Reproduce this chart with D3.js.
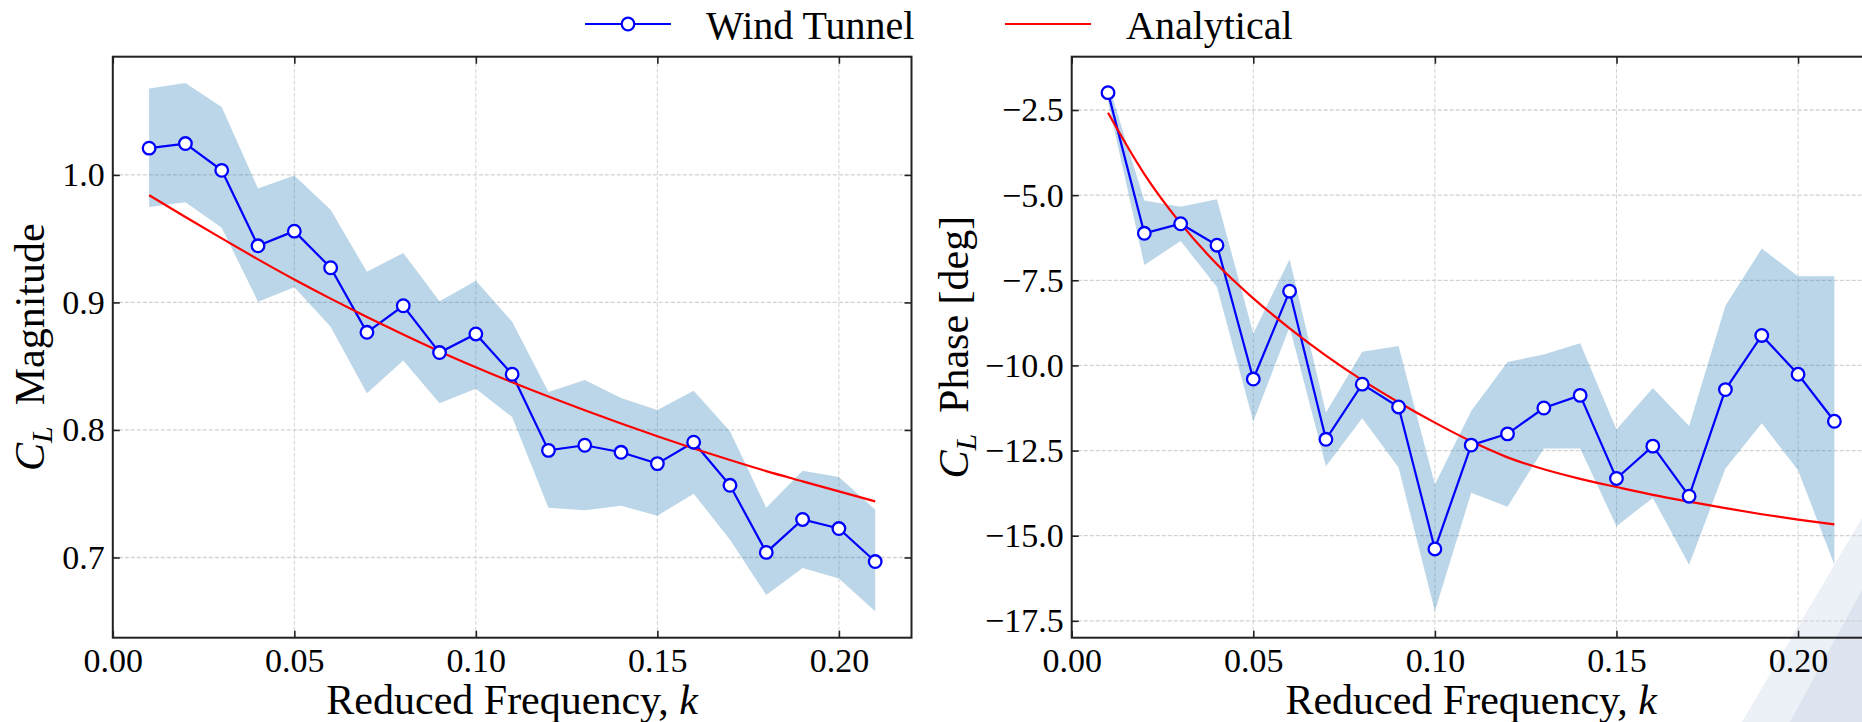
<!DOCTYPE html>
<html>
<head>
<meta charset="utf-8">
<script src="https://cdn.jsdelivr.net/npm/d3@7"></script>
<style>
  body { margin: 0; background: #fff; }
  svg text { font-family: "Liberation Serif", "Times New Roman", serif; fill: #000; }
</style>
</head>
<body>
<svg id="chart" width="1862" height="722"></svg>
<script>
// reduced frequency samples
var kValues = [0.01, 0.02, 0.03, 0.04, 0.05, 0.06, 0.07, 0.08, 0.09, 0.10, 0.11,
               0.12, 0.13, 0.14, 0.15, 0.16, 0.17, 0.18, 0.19, 0.20, 0.21];

// C_L magnitude
var magWind  = [1.021, 1.0246, 1.0036, 0.9444, 0.9559, 0.9272, 0.8766, 0.8974, 0.8607, 0.8753, 0.8437,
                0.7840, 0.7880, 0.7825, 0.7736, 0.7904, 0.7566, 0.7040, 0.7298, 0.7227, 0.6968];
var magUpper = [1.0677, 1.0720, 1.0532, 0.9893, 0.9995, 0.9726, 0.9240, 0.9388, 0.9010, 0.9170, 0.8849,
                0.8297, 0.8392, 0.8251, 0.8157, 0.8308, 0.7990, 0.7390, 0.7680, 0.7631, 0.7377];
var magLower = [0.9748, 0.9785, 0.9585, 0.9006, 0.9119, 0.8810, 0.8287, 0.8545, 0.8209, 0.8324, 0.8101,
                0.7390, 0.7370, 0.7406, 0.7327, 0.7500, 0.7140, 0.6705, 0.6918, 0.6836, 0.6578];
var magAnalytical = [0.9841, 0.9670, 0.9502, 0.9338, 0.9180, 0.9030, 0.8886, 0.8748, 0.8616, 0.8492, 0.8374,
                     0.8262, 0.8154, 0.8050, 0.7950, 0.7855, 0.7764, 0.7677, 0.7597, 0.7518, 0.7440];

// C_L phase [deg]
var phaseWind  = [-1.99, -6.12, -5.84, -6.47, -10.40, -7.82, -12.17, -10.55, -11.22, -15.39, -12.34,
                  -12.01, -11.25, -10.88, -13.32, -12.37, -13.84, -10.71, -9.12, -10.26, -11.64];
var phaseUpper = [-1.71, -5.16, -5.34, -5.12, -9.06, -6.88, -11.38, -9.60, -9.43, -13.50, -11.34,
                  -9.90, -9.68, -9.35, -11.88, -10.66, -11.78, -8.25, -6.57, -7.38, -7.38];
var phaseLower = [-2.25, -7.05, -6.35, -7.70, -11.65, -8.87, -12.96, -11.55, -13.00, -17.22, -13.74,
                  -14.15, -12.44, -12.44, -14.72, -13.89, -15.85, -13.03, -11.70, -13.08, -15.85];
var phaseAnalytical = [-2.58, -4.38, -5.83, -7.03, -8.03, -8.91, -9.71, -10.43, -11.08, -11.68, -12.23,
                       -12.70, -13.05, -13.33, -13.57, -13.80, -14.00, -14.19, -14.37, -14.53, -14.67];

// tick labels
var xTicks = [0.00, 0.05, 0.10, 0.15, 0.20];
var magTicks = [0.7, 0.8, 0.9, 1.0];
var phaseTicks = [-17.5, -15.0, -12.5, -10.0, -7.5, -5.0, -2.5];

var svg = d3.select('#chart');
var top_ = 56.7, bottom_ = 637.7;

// faint watermark in the lower right corner
svg.append('path')
    .attr('d', 'M1742,722 L1862,518 L1862,722 Z')
    .attr('fill', '#ecf0f7');
svg.append('path')
    .attr('d', 'M1790,722 L1862,590 L1862,722 Z')
    .attr('fill', '#dde4ef');

function padded(lo, hi) {
  var mn = d3.min(lo), mx = d3.max(hi), r = mx - mn;
  return [mn - 0.05 * r, mx + 0.05 * r];
}

function drawPanel(p) {
  var g = svg.append('g');
  var x = d3.scaleLinear().domain([0, 0.22]).range([p.x0, p.x1]);
  var y = d3.scaleLinear().domain(padded(p.lower, p.upper)).range([bottom_, top_]);

  // grid
  g.selectAll('.vg').data(xTicks).enter().append('line')
      .attr('x1', function(d) { return x(d); })
      .attr('x2', function(d) { return x(d); })
      .attr('y1', top_).attr('y2', bottom_)
      .attr('stroke', '#d2d2d2').attr('stroke-width', 1)
      .attr('stroke-dasharray', '4,2');
  g.selectAll('.hg').data(p.ticks).enter().append('line')
      .attr('x1', p.x0).attr('x2', p.x1)
      .attr('y1', function(d) { return y(d); })
      .attr('y2', function(d) { return y(d); })
      .attr('stroke', '#d2d2d2').attr('stroke-width', 1.3)
      .attr('stroke-dasharray', '4,2');

  var rows = kValues.map(function(k, i) {
    return { k: k, v: p.wind[i], lo: p.lower[i], hi: p.upper[i], a: p.analytical[i] };
  });

  // spread band
  g.append('path')
      .datum(rows)
      .attr('d', d3.area()
          .x(function(d) { return x(d.k); })
          .y0(function(d) { return y(d.lo); })
          .y1(function(d) { return y(d.hi); }))
      .attr('fill', '#1f77b4')
      .attr('fill-opacity', 0.3);

  // wind tunnel line
  g.append('path')
      .datum(rows)
      .attr('d', d3.line()
          .x(function(d) { return x(d.k); })
          .y(function(d) { return y(d.v); }))
      .attr('fill', 'none')
      .attr('stroke', '#0000ff')
      .attr('stroke-width', 2.2);

  // analytical curve
  g.append('path')
      .datum(rows)
      .attr('d', d3.line()
          .curve(d3.curveMonotoneX)
          .x(function(d) { return x(d.k); })
          .y(function(d) { return y(d.a); }))
      .attr('fill', 'none')
      .attr('stroke', '#ff0000')
      .attr('stroke-width', 2.2);

  g.selectAll('circle').data(rows).enter().append('circle')
      .attr('cx', function(d) { return x(d.k); })
      .attr('cy', function(d) { return y(d.v); })
      .attr('r', 6.3)
      .attr('fill', '#fff')
      .attr('stroke', '#0000ff')
      .attr('stroke-width', 2.3);

  // axes, ticks pointing inward
  var bx = g.append('g').attr('transform', 'translate(0,' + bottom_ + ')')
      .call(d3.axisBottom(x).tickValues(xTicks).tickSize(-7).tickSizeOuter(0).tickPadding(10)
          .tickFormat(d3.format('.2f')));
  var tx = g.append('g').attr('transform', 'translate(0,' + top_ + ')')
      .call(d3.axisTop(x).tickValues(xTicks).tickSize(-7).tickSizeOuter(0).tickFormat(''));
  var ly = g.append('g').attr('transform', 'translate(' + p.x0 + ',0)')
      .call(d3.axisLeft(y).tickValues(p.ticks).tickSize(-7).tickSizeOuter(0).tickPadding(8)
          .tickFormat(function(d) { return d3.format('.1f')(d).replace('-', '\u2212'); }));
  var ry = g.append('g').attr('transform', 'translate(' + p.x1 + ',0)')
      .call(d3.axisRight(y).tickValues(p.ticks).tickSize(-7).tickSizeOuter(0).tickFormat(''));

  [bx, tx, ly, ry].forEach(function(a) {
    a.select('.domain').remove();
    a.selectAll('.tick line').attr('stroke', '#222').attr('stroke-width', 1.6);
    a.selectAll('text').attr('font-size', 34).attr('font-family', '"Liberation Serif", serif').attr('fill', '#000');
  });

  g.append('rect')
      .attr('x', p.x0).attr('y', top_)
      .attr('width', p.x1 - p.x0).attr('height', bottom_ - top_)
      .attr('fill', 'none').attr('stroke', '#222').attr('stroke-width', 2);

  // x label
  var xl = g.append('text')
      .attr('x', (p.x0 + p.x1) / 2).attr('y', 714)
      .attr('text-anchor', 'middle').attr('font-size', 42);
  xl.append('tspan').text('Reduced Frequency, ');
  xl.append('tspan').attr('font-style', 'italic').text('k');

  // y label
  var yl = g.append('text')
      .attr('transform', 'translate(' + p.labelX + ',' + ((top_ + bottom_) / 2) + ') rotate(-90)')
      .attr('text-anchor', 'middle').attr('font-size', 42);
  yl.append('tspan').attr('font-style', 'italic').text('C');
  yl.append('tspan').attr('font-style', 'italic').attr('font-size', 30).attr('dy', 8).text('L');
  yl.append('tspan').attr('dy', -8).text('\u2002' + p.label);
}

drawPanel({ x0: 112.8, x1: 911.5, wind: magWind, upper: magUpper, lower: magLower,
            analytical: magAnalytical, ticks: magTicks, label: 'Magnitude', labelX: 44 });
drawPanel({ x0: 1071.7, x1: 1870.7, wind: phaseWind, upper: phaseUpper, lower: phaseLower,
            analytical: phaseAnalytical, ticks: phaseTicks, label: 'Phase [deg]', labelX: 968 });

// legend
var legend = svg.append('g').attr('font-size', 40);
legend.append('line').attr('x1', 585).attr('x2', 671).attr('y1', 24).attr('y2', 24)
    .attr('stroke', '#0000ff').attr('stroke-width', 2.2);
legend.append('circle').attr('cx', 628).attr('cy', 24).attr('r', 6.3)
    .attr('fill', '#fff').attr('stroke', '#0000ff').attr('stroke-width', 2.3);
legend.append('text').attr('x', 706).attr('y', 39).text('Wind Tunnel');
legend.append('line').attr('x1', 1005).attr('x2', 1091).attr('y1', 24).attr('y2', 24)
    .attr('stroke', '#ff0000').attr('stroke-width', 2.2);
legend.append('text').attr('x', 1126).attr('y', 39).text('Analytical');
</script>
</body>
</html>
